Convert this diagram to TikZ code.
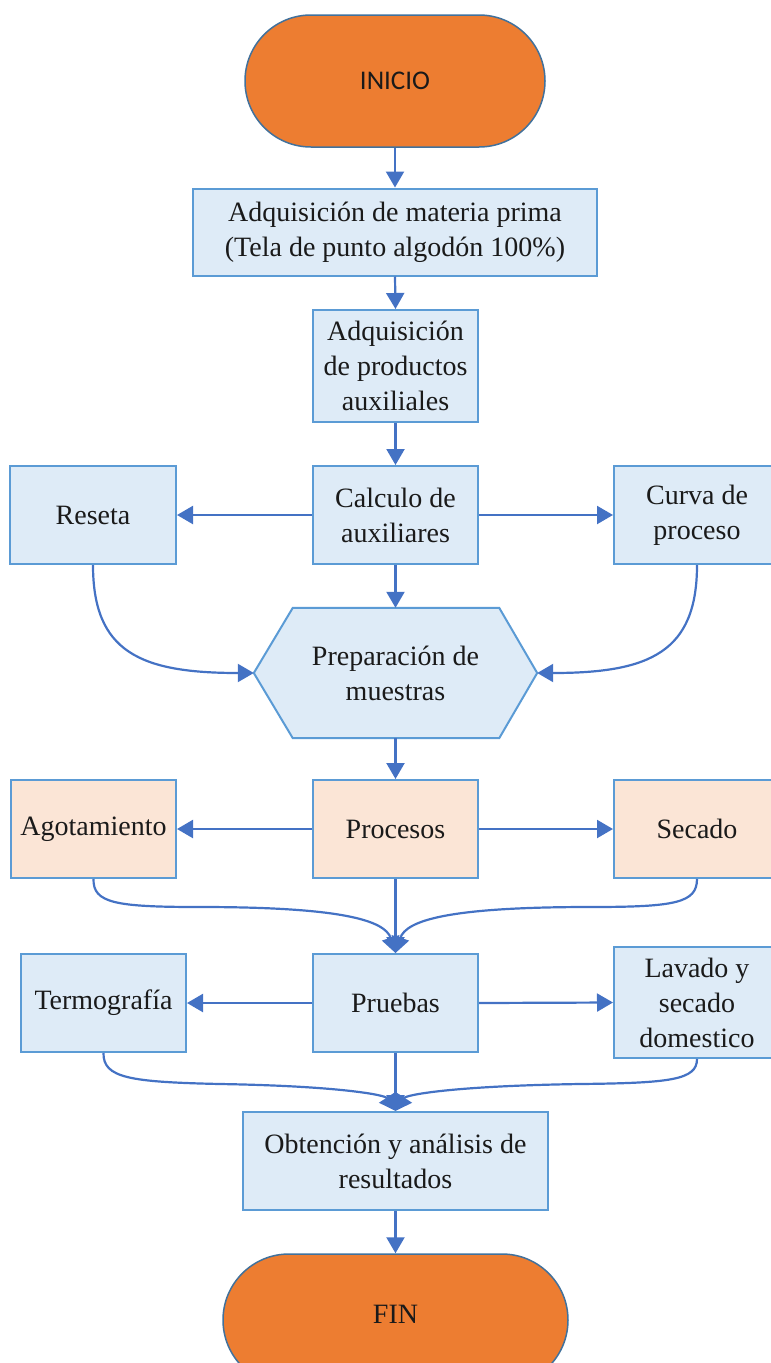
\documentclass[tikz,border=0pt]{standalone}
\usepackage{fontspec}
\setmainfont{Liberation Serif}
\newfontfamily\calibfont{Carlito}
\usetikzlibrary{shapes.misc,arrows.meta,backgrounds}
\definecolor{termorange}{HTML}{ED7D31}
\definecolor{termborder}{HTML}{41719C}
\definecolor{boxfill}{HTML}{DEEBF7}
\definecolor{boxborder}{HTML}{5B9BD5}
\definecolor{peachfill}{HTML}{FBE5D6}
\definecolor{arrowblue}{HTML}{4472C4}
\definecolor{inktext}{HTML}{1A1A1A}
\begin{document}
\begin{tikzpicture}[x=1pt,y=-1pt,
  txt/.style={font=\fontsize{28}{35}\selectfont, text=inktext, align=center, inner sep=0pt},
  termbox/.style={rounded rectangle, fill=termorange, draw=termborder, line width=1.5pt, inner sep=0pt, text=inktext},
  bluebox/.style={txt, rectangle, fill=boxfill, draw=boxborder, line width=2pt},
  peachbox/.style={txt, rectangle, fill=peachfill, draw=boxborder, line width=2pt},
  arr/.style={draw=arrowblue, line width=2.2pt, -{Triangle[length=16pt,width=18pt]}},
]
\useasboundingbox (0,0) rectangle (771,1363);

% terminators
\node[termbox, minimum width=300pt, minimum height=132pt, font=\calibfont\fontsize{27}{32}\selectfont] (inicio) at (395,81) {INICIO};
\node[termbox, minimum width=345pt, minimum height=132pt, font=\fontsize{28}{35}\selectfont] (fin) at (395.5,1320) {\raisebox{12pt}{FIN}};

% boxes
\node[bluebox, minimum width=404pt, minimum height=87pt] (m1) at (395,232) {Adquisición de materia prima\\(Tela de punto algodón 100\%)};
\node[bluebox, minimum width=165pt, minimum height=112pt] (m2) at (395.5,366) {Adquisición\\de productos\\auxiliales};

\node[bluebox, minimum width=166pt, minimum height=98pt] (reseta) at (93,515) {Reseta};
\node[bluebox, minimum width=165pt, minimum height=98pt] (calc) at (395.5,515) {Calculo de\\auxiliares};
\node[bluebox, minimum width=166pt, minimum height=98pt] (curva) at (697,515) {Curva de\\proceso};

\node[txt, minimum width=283pt, minimum height=130pt] (prep) at (395.5,673) {Preparación de\\muestras};
\begin{scope}[on background layer]
\draw[fill=boxfill, draw=boxborder, line width=2pt, line join=miter]
  (prep.west) -- ([xshift=39pt]prep.north west) -- ([xshift=-38pt]prep.north east)
  -- (prep.east) -- ([xshift=-38pt]prep.south east) -- ([xshift=39pt]prep.south west) -- cycle;
\end{scope}

\node[peachbox, minimum width=165pt, minimum height=98pt] (agot) at (93.5,829) {Agotamiento};
\node[peachbox, minimum width=165pt, minimum height=98pt] (proc) at (395.5,829) {Procesos};
\node[peachbox, minimum width=166pt, minimum height=98pt] (secado) at (697,829) {Secado};

\node[bluebox, minimum width=165pt, minimum height=98pt] (termo) at (103.5,1003) {Termografía};
\node[bluebox, minimum width=165pt, minimum height=98pt] (pruebas) at (395.5,1003) {Pruebas};
\node[bluebox, minimum width=166pt, minimum height=111pt] (lavado) at (697,1002.5) {Lavado y\\secado\\domestico};

\node[bluebox, minimum width=305pt, minimum height=98pt] (obt) at (395.5,1161) {Obtención y análisis de\\resultados};

% straight connectors
\draw[arr] (inicio.south) -- (m1.north);
\draw[arr] (m1.south) -- (m2.north);
\draw[arr] (m2.south) -- (calc.north);
\draw[arr] (calc.west) -- (reseta.east);
\draw[arr] (calc.east) -- (curva.west);
\draw[arr] (calc.south) -- (prep.north);
\draw[arr] (prep.south) -- (proc.north);
\draw[arr] (proc.west) -- (agot.east);
\draw[arr] (proc.east) -- (secado.west);
\draw[arr] (proc.south) -- (pruebas.north);
\draw[arr] (pruebas.west) -- (termo.east);
\draw[arr] (pruebas.east) -- (lavado.west);
\draw[arr] (pruebas.south) -- (obt.north);
\draw[arr] (obt.south) -- (fin.north);

% curved connectors
\draw[arr] (reseta.south) .. controls (93,652) and (140,673) .. (prep.west);
\draw[arr] (curva.south) .. controls (697,652) and (650,673) .. (prep.east);

\draw[arr] (agot.south) .. controls (93,903) and (115,907) .. (200,907)
  .. controls (340,907) and (385,920) .. (pruebas.north);
\draw[arr] (secado.south) .. controls (697,903) and (675,907) .. (590,907)
  .. controls (450,907) and (406,920) .. (pruebas.north);

\draw[arr] (termo.south) .. controls (103,1078) and (130,1082) .. (220,1084)
  .. controls (340,1086) and (385,1095) .. (obt.north);
\draw[arr] (lavado.south) .. controls (697,1080) and (670,1083) .. (580,1084)
  .. controls (450,1086) and (406,1095) .. (obt.north);
\end{tikzpicture}
\end{document}
